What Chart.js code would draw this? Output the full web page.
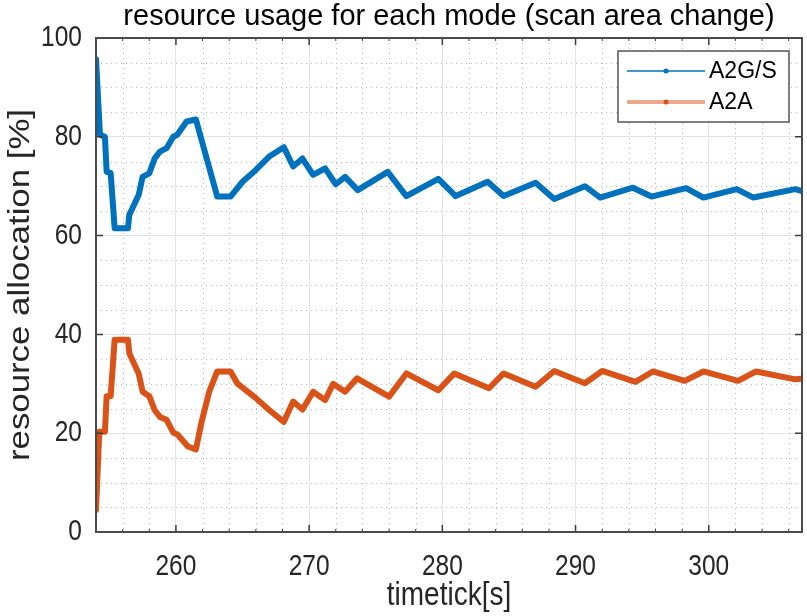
<!DOCTYPE html>
<html>
<head>
<meta charset="utf-8">
<script src="https://cdn.jsdelivr.net/npm/chart.js@4.4.1/dist/chart.umd.min.js"></script>
<style>
  body { margin: 0; background: #fff; }
  #wrap { width: 807px; height: 616px; }
</style>
</head>
<body>
<div id="wrap"><canvas id="chart"></canvas></div>
<script>
// values (vertices of each trace)
const a2gsTime = [254.0, 254.3, 254.67, 254.8, 255.1, 255.4, 256.4, 256.5, 257.2, 257.5, 258.0, 258.4, 258.8, 259.3, 259.8, 260.1, 260.8, 261.5, 263.1, 264.1, 265.0, 266.0, 267.0, 268.1, 268.8, 269.5, 270.3, 271.2, 272.0, 272.7, 273.65, 275.9, 277.3, 279.7, 281.0, 283.4, 284.6, 287.0, 288.4, 290.7, 291.85, 294.3, 295.7, 298.3, 299.6, 302.1, 303.35, 306.5, 307.0];
const a2gsValue = [95.7, 80.4, 80.0, 72.9, 72.7, 61.5, 61.5, 64.2, 68.2, 71.9, 72.6, 75.6, 77.0, 77.7, 80.0, 80.4, 83.1, 83.5, 67.9, 67.9, 70.9, 73.3, 76.0, 77.9, 74.0, 75.6, 72.3, 73.6, 70.4, 71.9, 69.2, 72.9, 68.0, 71.5, 68.0, 70.9, 68.0, 70.7, 67.4, 70.0, 67.7, 69.7, 67.9, 69.6, 67.7, 69.4, 67.7, 69.4, 69.0];

const a2aTime = [254.0, 254.25, 254.67, 254.8, 255.1, 255.4, 256.4, 256.5, 257.2, 257.5, 258.0, 258.4, 258.8, 259.3, 259.8, 260.1, 260.9, 261.5, 261.9, 262.5, 263.1, 264.1, 264.6, 266.0, 267.0, 268.1, 268.8, 269.5, 270.3, 271.2, 271.8, 272.7, 273.6, 276.0, 277.3, 279.7, 280.9, 283.5, 284.6, 287.0, 288.4, 290.7, 292.0, 294.5, 295.8, 298.2, 299.6, 302.2, 303.55, 306.5, 307.0];
const a2aValue = [4.5, 20.3, 20.3, 27.5, 27.5, 38.9, 38.9, 36.2, 32.1, 28.4, 27.5, 24.7, 23.3, 22.7, 20.1, 19.8, 17.3, 16.7, 22.0, 28.4, 32.5, 32.5, 30.1, 27.1, 24.7, 22.3, 26.4, 24.8, 28.4, 26.7, 30.0, 28.4, 31.1, 27.4, 32.1, 28.7, 32.1, 29.1, 32.1, 29.4, 32.6, 30.1, 32.6, 30.4, 32.5, 30.6, 32.5, 30.6, 32.5, 30.9, 31.0];

const seriesNames = ["A2G/S", "A2A"];
const xTicks = [260, 270, 280, 290, 300];
const yTicks = [0, 20, 40, 60, 80, 100];
const xMinorTicks = [254, 256, 258, 262, 264, 266, 268, 272, 274, 276, 278, 282, 284, 286, 288, 292, 294, 296, 298, 302, 304, 306];
const yMinorTicks = [5, 10, 15, 25, 30, 35, 45, 50, 55, 65, 70, 75, 85, 90, 95];
const chartTitle = "resource usage for each mode (scan area change)";

const blue = "#0072BD";
const orange = "#D95319";
const FONT = "'Liberation Sans', Arial, sans-serif";

// the reference axis text is a bit taller than it is wide
const AXIS_STRETCH = 1.2;
let textStretch = AXIS_STRETCH;

function toPoints(xs, ys) {
  return xs.map((x, i) => ({ x: x, y: ys[i] }));
}

// dotted minor grid, inward ticks, the box around the axes and the title
const framePlugin = {
  id: "frame",
  beforeDatasetsDraw(chart) {
    const { ctx, chartArea: a, scales } = chart;
    ctx.save();
    ctx.strokeStyle = "#b8b8b8";
    ctx.lineWidth = 1;
    ctx.setLineDash([1, 4]);
    for (const v of xMinorTicks) {
      const px = Math.round(scales.x.getPixelForValue(v)) + 0.5;
      ctx.beginPath(); ctx.moveTo(px, a.top); ctx.lineTo(px, a.bottom); ctx.stroke();
    }
    for (const v of yMinorTicks) {
      const py = Math.round(scales.y.getPixelForValue(v)) + 0.5;
      ctx.beginPath(); ctx.moveTo(a.left, py); ctx.lineTo(a.right, py); ctx.stroke();
    }
    ctx.restore();
  },
  afterDatasetsDraw(chart) {
    const { ctx, chartArea: a, scales } = chart;
    ctx.save();
    ctx.strokeStyle = "#3c3c3c";
    ctx.lineWidth = 1.5;
    ctx.beginPath();
    for (const v of xTicks) {
      const px = scales.x.getPixelForValue(v);
      ctx.moveTo(px, a.bottom); ctx.lineTo(px, a.bottom - 7);
      ctx.moveTo(px, a.top); ctx.lineTo(px, a.top + 7);
    }
    for (const v of yTicks) {
      const py = scales.y.getPixelForValue(v);
      ctx.moveTo(a.left, py); ctx.lineTo(a.left + 7, py);
      ctx.moveTo(a.right, py); ctx.lineTo(a.right - 7, py);
    }
    ctx.stroke();
    ctx.lineWidth = 1;
    ctx.beginPath();
    for (const v of xMinorTicks) {
      const px = scales.x.getPixelForValue(v);
      ctx.moveTo(px, a.bottom); ctx.lineTo(px, a.bottom - 3);
      ctx.moveTo(px, a.top); ctx.lineTo(px, a.top + 3);
    }
    ctx.stroke();
    ctx.lineWidth = 2;
    ctx.strokeStyle = "#4a4a4a";
    ctx.strokeRect(a.left, a.top, a.right - a.left, a.bottom - a.top);

    // title centred over the axes, like matlab does
    textStretch = 1;
    ctx.fillStyle = "#000";
    ctx.font = "29px " + FONT;
    ctx.textAlign = "center";
    ctx.textBaseline = "middle";
    ctx.fillText(chartTitle, (a.left + a.right) / 2, 17);
    textStretch = AXIS_STRETCH;
    ctx.restore();
  }
};

// legend box in the top right corner: line with a marker, then the name
const legendPlugin = {
  id: "boxLegend",
  afterDraw(chart) {
    const { ctx, chartArea: a } = chart;
    const bx = a.right - 184, by = a.top + 13, bw = 171, bh = 71;
    textStretch = 1;
    ctx.save();
    ctx.fillStyle = "#fff";
    ctx.fillRect(bx, by, bw, bh);
    ctx.strokeStyle = "#555";
    ctx.lineWidth = 1.5;
    ctx.strokeRect(bx, by, bw, bh);
    const rows = [
      { name: seriesNames[0], color: blue, line: blue, lw: 1.5, y: by + 20 },
      { name: seriesNames[1], color: orange, line: "rgba(217,83,25,0.5)", lw: 4, y: by + 51 }
    ];
    for (const r of rows) {
      ctx.strokeStyle = r.line;
      ctx.lineWidth = r.lw;
      ctx.beginPath(); ctx.moveTo(bx + 9, r.y); ctx.lineTo(bx + 87, r.y); ctx.stroke();
      ctx.fillStyle = r.color;
      ctx.beginPath(); ctx.arc(bx + 48, r.y, 2.5, 0, Math.PI * 2); ctx.fill();
      ctx.fillStyle = "#000";
      ctx.font = "23px " + FONT;
      ctx.textBaseline = "middle";
      ctx.fillText(r.name, bx + 91, r.y + 1);
    }
    ctx.restore();
    textStretch = AXIS_STRETCH;
  }
};

const ctx = document.getElementById("chart");

// stretch text vertically on screen around its anchor point
const g = ctx.getContext("2d");
const plainFillText = g.fillText;
g.fillText = function (text, x, y, maxWidth) {
  if (textStretch === 1) return plainFillText.call(this, text, x, y, maxWidth);
  const m = this.getTransform();
  const py = m.b * x + m.d * y + m.f;
  this.save();
  this.setTransform(1, 0, 0, textStretch, 0, py - textStretch * py);
  this.transform(m.a, m.b, m.c, m.d, m.e, m.f);
  if (maxWidth === undefined) plainFillText.call(this, text, x, y);
  else plainFillText.call(this, text, x, y, maxWidth);
  this.restore();
};

const myChart = new Chart(ctx, {
  type: "line",
  data: {
    datasets: [
      {
        label: seriesNames[0],
        data: toPoints(a2gsTime, a2gsValue),
        borderColor: blue,
        backgroundColor: blue,
        borderWidth: 6,
        borderJoinStyle: "round",
        borderCapStyle: "round",
        pointRadius: 0,
        tension: 0
      },
      {
        label: seriesNames[1],
        data: toPoints(a2aTime, a2aValue),
        borderColor: orange,
        backgroundColor: orange,
        borderWidth: 6,
        borderJoinStyle: "round",
        borderCapStyle: "round",
        pointRadius: 0,
        tension: 0
      }
    ]
  },
  options: {
    responsive: true,
    maintainAspectRatio: false,
    animation: false,
    layout: { padding: { left: 0, right: 5, top: 38, bottom: 0 } },
    plugins: {
      legend: { display: false },
      tooltip: { enabled: false },
      title: { display: false }
    },
    scales: {
      x: {
        type: "linear",
        min: 254,
        max: 307,
        afterBuildTicks: (s) => { s.ticks = xTicks.map((v) => ({ value: v })); },
        afterFit: (s) => { s.height = 84; },
        grid: { color: "#e3e3e3", lineWidth: 1, drawTicks: false },
        border: { display: false },
        ticks: {
          color: "#262626",
          padding: 20,
          maxRotation: 0,
          font: { family: FONT, size: 24.5 }
        },
        title: {
          display: true,
          text: "timetick[s]",
          color: "#262626",
          font: { family: FONT, size: 28 },
          padding: { top: 0, bottom: 3 }
        }
      },
      y: {
        type: "linear",
        min: 0,
        max: 100,
        afterBuildTicks: (s) => { s.ticks = yTicks.map((v) => ({ value: v })); },
        afterFit: (s) => { s.width = 96; },
        grid: { color: "#e3e3e3", lineWidth: 1, drawTicks: false },
        border: { display: false },
        ticks: {
          color: "#262626",
          padding: 14,
          font: { family: FONT, size: 24.5 }
        },
        title: {
          display: true,
          text: "resource allocation [%]",
          color: "#262626",
          font: { family: FONT, size: 29 },
          padding: { top: 4, bottom: 0 }
        }
      }
    }
  },
  plugins: [framePlugin, legendPlugin]
});
</script>
</body>
</html>
